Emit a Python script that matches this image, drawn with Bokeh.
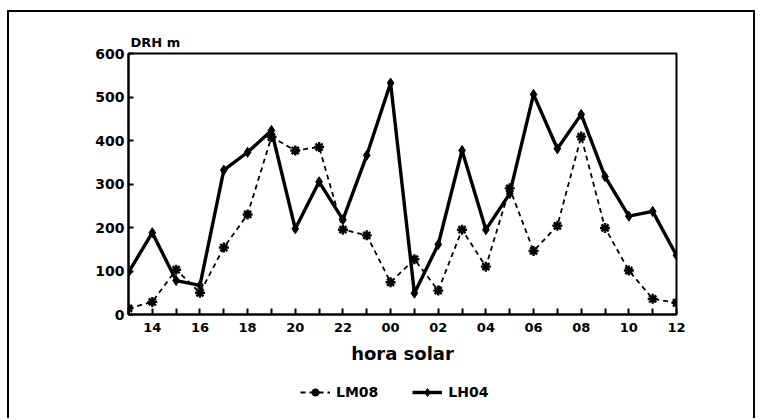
from bokeh.plotting import figure
from bokeh.models import Range1d, FixedTicker, Legend, LegendItem
from bokeh.layouts import column
from bokeh.embed import file_html
from bokeh.resources import INLINE

# --- data ---
hours = [13, 14, 15, 16, 17, 18, 19, 20, 21, 22, 23, 24,
         25, 26, 27, 28, 29, 30, 31, 32, 33, 34, 35, 36]
lh04 = [97, 188, 78, 67, 332, 373, 423, 197, 305, 218, 366, 532,
        49, 161, 377, 195, 278, 506, 381, 460, 317, 226, 237, 136]
lm08 = [14, 29, 103, 50, 154, 230, 408, 377, 385, 195, 182, 74,
        127, 55, 195, 110, 290, 146, 204, 409, 199, 101, 36, 27]
tick_pos = [14, 16, 18, 20, 22, 24, 26, 28, 30, 32, 34, 36]
tick_labels = ["14", "16", "18", "20", "22", "00", "02", "04", "06", "08", "10", "12"]
minor_pos = [13, 15, 17, 19, 21, 23, 25, 27, 29, 31, 33, 35]
y_ticks = [0, 100, 200, 300, 400, 500, 600]
series_names = ["LM08", "LH04"]

FONT = "DejaVu Sans"

p = figure(width=744, height=360, output_backend="svg", toolbar_location=None,
           x_range=Range1d(13, 36), y_range=Range1d(0, 600),
           min_border_left=119, min_border_right=77,
           min_border_top=41, min_border_bottom=58,
           title="DRH m")

p.title.text_font = FONT
p.title.text_font_style = "bold"
p.title.text_font_size = "13px"
p.title.text_color = "black"
p.title.align = "left"
p.title.offset = 2
p.title.standoff = 8

p.grid.visible = False
p.outline_line_color = "black"
p.outline_line_width = 2
p.background_fill_color = "white"
p.border_fill_color = "white"

# x axis
xa = p.xaxis[0]
xa.ticker = FixedTicker(ticks=tick_pos, minor_ticks=minor_pos)
xa.major_label_overrides = {t: l for t, l in zip(tick_pos, tick_labels)}
xa.major_tick_in = 6
xa.major_tick_out = 0
xa.minor_tick_in = 6
xa.minor_tick_out = 0
xa.major_tick_line_width = 2
xa.minor_tick_line_width = 2
xa.axis_line_width = 2
xa.major_label_text_font = FONT
xa.major_label_text_font_style = "bold"
xa.major_label_text_font_size = "13px"
xa.major_label_text_color = "black"
xa.major_label_standoff = 8
xa.axis_label = "hora solar"
xa.axis_label_text_font = FONT
xa.axis_label_text_font_style = "bold"
xa.axis_label_text_font_size = "18px"
xa.axis_label_text_color = "black"
xa.axis_label_standoff = 8

# y axis
ya = p.yaxis[0]
ya.ticker = FixedTicker(ticks=y_ticks, minor_ticks=[])
ya.major_tick_in = 5
ya.major_tick_out = 0
ya.major_tick_line_width = 2
ya.axis_line_width = 2
ya.major_label_text_font = FONT
ya.major_label_text_font_style = "bold"
ya.major_label_text_font_size = "14px"
ya.major_label_text_color = "black"
ya.major_label_standoff = 4

# series styles
dash_style = dict(line_color="black", line_width=1.8, line_dash="5 4")
ast_style = dict(marker="asterisk", size=10, line_color="black", line_width=2.4)
solid_style = dict(line_color="black", line_width=3.4)
dia_style = dict(marker="diamond", size=10, fill_color="black", line_color="black")

p.line(hours, lm08, **dash_style)
p.scatter(hours, lm08, **ast_style)
p.line(hours, lh04, **solid_style)
p.scatter(hours, lh04, **dia_style)

# legend strip below the chart: same series, drawn outside its (empty) view
q = figure(width=744, height=46, output_backend="svg", toolbar_location=None,
           x_range=Range1d(13, 36), y_range=Range1d(1000, 1001),
           min_border_left=0, min_border_right=0, min_border_top=0, min_border_bottom=0)
q.axis.visible = False
q.grid.visible = False
q.outline_line_color = None
q.border_fill_color = "white"
q.background_fill_color = "white"
k1 = q.line(hours, lm08, **dash_style)
k2 = q.scatter(hours, lm08, **ast_style)
k3 = q.line(hours, lh04, **solid_style)
k4 = q.scatter(hours, lh04, **dia_style)

legend = Legend(items=[LegendItem(label=series_names[0], renderers=[k1, k2]),
                       LegendItem(label=series_names[1], renderers=[k3, k4])],
                orientation="horizontal", location=(172, 16),
                border_line_color=None, background_fill_alpha=0,
                label_text_font=FONT, label_text_font_style="bold",
                label_text_font_size="14px", label_text_color="black",
                glyph_width=30, label_standoff=6,
                spacing=34, padding=0, margin=0)
q.add_layout(legend, "center")

page = column(p, q, margin=(10, 0, 0, 7), spacing=0,
              styles={"border-top": "2px solid black", "border-left": "2px solid black",
                      "border-right": "2px solid black"})

open("out.html", "w").write(file_html(page, INLINE))
